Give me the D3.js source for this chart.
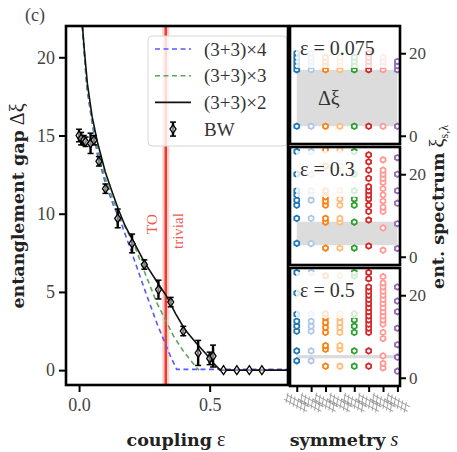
<!DOCTYPE html>
<html>
<head>
<meta charset="utf-8">
<script src="https://cdn.jsdelivr.net/npm/d3@7"></script>
<style>
  body { margin: 0; background: #fff; }
  svg text { font-family: "Liberation Serif", "DejaVu Serif", serif; }
</style>
</head>
<body>
<div id="chart"></div>
<script>
// ---- data ----
const blueEps = [0.012, 0.03, 0.05, 0.07, 0.1, 0.13, 0.159, 0.2, 0.25, 0.3, 0.35, 0.374, 0.8];
const blueGap = [22, 18.0, 15.8, 13.8, 12.0, 10.6, 9.5, 7.6, 5.2, 2.9, 0.9, 0.05, 0.05];

const greenEps = [0.013, 0.03, 0.05, 0.07, 0.1, 0.13, 0.16, 0.209, 0.25, 0.298, 0.361, 0.4, 0.45, 0.46];
const greenGap = [22, 18.1, 16.0, 14.2, 12.3, 10.9, 9.7, 8.1, 6.3, 4.3, 2.2, 1.2, 0.15, 0.0];

const blackEps = [0.013, 0.02, 0.032, 0.05, 0.07, 0.1, 0.12, 0.15, 0.177, 0.209, 0.25, 0.3, 0.336, 0.37, 0.405, 0.45, 0.488, 0.52, 0.54, 0.8];
const blackGap = [22, 20.5, 18.3, 16.2, 14.6, 12.7, 11.7, 10.3, 9.2, 8.2, 6.9, 5.6, 4.7, 3.6, 2.6, 1.7, 1.0, 0.35, 0.0, 0.0];

const bwEps = [0.0, 0.008, 0.018, 0.025, 0.044, 0.057, 0.076, 0.101, 0.148, 0.203, 0.25, 0.304, 0.351, 0.399, 0.456, 0.5, 0.513, 0.553, 0.604, 0.652, 0.70];
const bwGap = [15.0, 14.8, 14.7, 14.6, 14.5, 14.7, 13.35, 11.6, 9.7, 8.1, 6.75, 5.15, 4.35, 2.5, 1.1, 0.75, 0.9, 0, 0, 0, 0];
const bwErr = [0.4, 0.4, 0.3, 0.3, 0.65, 0.3, 0.3, 0.3, 0.6, 0.6, 0.3, 0.6, 0.3, 0.3, 0.8, 0.4, 0.7, 0, 0, 0, 0];

const transitionEps = 0.332;
const xTicks = [0.0, 0.5];
const yTicks = [0, 5, 10, 15, 20];
const legendLabels = ["(3+3)\u00d74", "(3+3)\u00d73", "(3+3)\u00d72", "BW"];

// symmetry sectors (columns) and their colours
const sectorColors = ["#1f77b4", "#aec7e8", "#ff7f0e", "#ffbb78", "#2ca02c", "#d62728", "#ff9896", "#9467bd"];
const panelEps = ["0.075", "0.3", "0.5"];
const panelBands = [[2.3, 16.0], [2.8, 8.5], [4.7, 5.5]];
const spectra = [
  [
    [2.3, 16, 17, 18, 19, 20],
    [2.3, 16, 17, 18, 19, 20],
    [2.3, 16, 17, 18, 19],
    [2.3, 16, 17, 18, 19],
    [2.3, 16, 17, 18, 19],
    [2.3, 16, 17, 18, 19, 20],
    [2.3, 16, 17, 18, 19],
    [2.3, 16, 17, 18]
  ],
  [
    [3.25, 9.3, 12.5, 13.7, 15, 16, 20, 25.5],
    [3.2, 9.3, 13.7, 15, 16, 20, 25.5],
    [2.1, 8.4, 9.3, 12.5, 13.5, 14.5, 16, 22, 25.9],
    [2.1, 8.4, 9.3, 12.5, 14, 16, 22, 25.9],
    [2.1, 8.4, 12.5, 14, 16, 20, 25.5],
    [2.6, 8.9, 11, 12.5, 14, 15, 16, 17, 19, 21, 23, 24.7],
    [1.6, 7.0, 11, 12, 13.5, 15, 16.5, 18, 19, 20, 21, 23.5],
    [2.0, 8.0, 13, 16, 20, 24]
  ],
  [
    [4.1, 6.5, 11.3, 12.5, 13.7, 15.4, 20.5, 25.5],
    [4.1, 6.5, 11.3, 12.5, 13.7, 15.4, 25.5],
    [2.8, 6.9, 7.8, 11, 12.2, 13.4, 14.6, 15.5, 24.7],
    [2.8, 6.9, 7.8, 11, 12.2, 13.4, 14.6, 15.5, 24.7],
    [2.8, 6.5, 11, 12.5, 14, 15.5, 24.7, 25.5],
    [2.8, 6.5, 11, 12, 13, 14, 15, 16, 17, 18, 19, 20, 21, 22, 24, 25.5],
    [2.4, 3.5, 5.3, 9.5, 11, 13, 14, 15, 16, 17, 18, 19, 20, 21, 22, 23, 24.5],
    [1.6, 5.0, 8, 12, 16, 18.6, 22]
  ]
];
const specTicks = [0, 20];

// ---- layout ----
const W = 457, H = 452;
const main = { left: 66, right: 288, top: 26, bottom: 385 };
const side = { left: 290, right: 400 };
const panelTops = [26, 147, 268];
const panelH = 118;

const svg = d3.select("#chart").append("svg")
  .attr("width", W).attr("height", H);

const x = d3.scaleLinear().domain([-0.05, 0.8]).range([main.left, main.right]);
const y = d3.scaleLinear().domain([-0.95, 22]).range([main.bottom, main.top]);

svg.append("defs").append("clipPath").attr("id", "mainclip")
  .append("rect")
  .attr("x", main.left).attr("y", main.top)
  .attr("width", main.right - main.left).attr("height", main.bottom - main.top);

const plot = svg.append("g").attr("clip-path", "url(#mainclip)");

// transition line
plot.append("rect")
  .attr("x", x(transitionEps) - 3.5).attr("y", main.top)
  .attr("width", 7).attr("height", main.bottom - main.top)
  .attr("fill", "#f6b3b0").attr("opacity", 0.6);
plot.append("line")
  .attr("x1", x(transitionEps)).attr("x2", x(transitionEps))
  .attr("y1", main.top).attr("y2", main.bottom)
  .attr("stroke", "#ee3b2b").attr("stroke-width", 2.5);

svg.append("text")
  .attr("transform", `translate(${x(transitionEps) - 9},234) rotate(-90)`)
  .attr("fill", "#f05a4f").attr("font-size", 15).text("TO");
svg.append("text")
  .attr("transform", `translate(${x(transitionEps) + 17},249) rotate(-90)`)
  .attr("fill", "#f05a4f").attr("font-size", 15).text("trivial");

// curves
const line = d3.line().x(d => x(d[0])).y(d => y(d[1]));
const curves = [
  { eps: blueEps, gap: blueGap, color: "#5a5af5", dash: "5,3.5", w: 1.6 },
  { eps: greenEps, gap: greenGap, color: "#5aa85a", dash: "5,3.5", w: 1.6 },
  { eps: blackEps, gap: blackGap, color: "#111", dash: null, w: 1.6 }
];
curves.forEach(c => {
  plot.append("path")
    .datum(c.eps.map((e, i) => [e, c.gap[i]]))
    .attr("d", line)
    .attr("fill", "none")
    .attr("stroke", c.color)
    .attr("stroke-width", c.w)
    .attr("stroke-dasharray", c.dash);
});

// BW points with error bars
const bw = bwEps.map((e, i) => ({ e: e, g: bwGap[i], err: bwErr[i] }));
const bwG = plot.append("g");
bw.filter(d => d.err > 0).forEach(d => {
  const px = x(d.e);
  bwG.append("line").attr("x1", px).attr("x2", px)
    .attr("y1", y(d.g - d.err)).attr("y2", y(d.g + d.err))
    .attr("stroke", "#000").attr("stroke-width", 2.4);
  [d.g - d.err, d.g + d.err].forEach(v => {
    bwG.append("line").attr("x1", px - 3).attr("x2", px + 3)
      .attr("y1", y(v)).attr("y2", y(v))
      .attr("stroke", "#000").attr("stroke-width", 1.5);
  });
});
const diamond = "M0,-4.5L3,0L0,4.5L-3,0Z";
bwG.selectAll("path.bw").data(bw).enter().append("path")
  .attr("class", "bw")
  .attr("d", diamond)
  .attr("transform", d => `translate(${x(d.e)},${y(d.g)})`)
  .attr("fill", "#fff").attr("fill-opacity", 0.5)
  .attr("stroke", "#000").attr("stroke-width", 1.3);

// legend
const leg = svg.append("g");
leg.append("rect").attr("x", 148).attr("y", 36).attr("width", 139).attr("height", 110)
  .attr("rx", 4).attr("fill", "#fff").attr("fill-opacity", 0.82)
  .attr("stroke", "#d6d6d6").attr("stroke-width", 1);
legendLabels.forEach((lab, i) => {
  const ly = 49 + i * 26.7;
  if (i < 3) {
    const c = curves[i];
    leg.append("line").attr("x1", 155).attr("x2", 191).attr("y1", ly).attr("y2", ly)
      .attr("stroke", c.color).attr("stroke-width", c.w).attr("stroke-dasharray", c.dash);
  } else {
    leg.append("line").attr("x1", 173).attr("x2", 173).attr("y1", ly - 7).attr("y2", ly + 7)
      .attr("stroke", "#000").attr("stroke-width", 2.4);
    [ly - 7, ly + 7].forEach(v => leg.append("line").attr("x1", 170).attr("x2", 176)
      .attr("y1", v).attr("y2", v).attr("stroke", "#000").attr("stroke-width", 1.5));
    leg.append("path").attr("d", diamond).attr("transform", `translate(173,${ly})`)
      .attr("fill", "#fff").attr("fill-opacity", 0.5).attr("stroke", "#000").attr("stroke-width", 1.3);
  }
  leg.append("text").attr("x", 204).attr("y", ly).attr("dy", "0.35em")
    .attr("font-size", 19).attr("fill", "#333").text(lab);
});

// main frame and axes
svg.append("rect")
  .attr("x", main.left).attr("y", main.top)
  .attr("width", main.right - main.left).attr("height", main.bottom - main.top)
  .attr("fill", "none").attr("stroke", "#000").attr("stroke-width", 2.6);

const xAxis = svg.append("g").attr("transform", `translate(0,${main.bottom + 1})`)
  .call(d3.axisBottom(x).tickValues(xTicks).tickFormat(d3.format(".1f")).tickSize(6).tickPadding(6));
const yAxis = svg.append("g").attr("transform", `translate(${main.left - 1},0)`)
  .call(d3.axisLeft(y).tickValues(yTicks).tickSize(6).tickPadding(4));
[xAxis, yAxis].forEach(a => {
  a.select(".domain").remove();
  a.selectAll(".tick line").attr("stroke", "#000").attr("stroke-width", 2);
  a.selectAll(".tick text").attr("font-size", 18).attr("fill", "#444")
    .attr("font-family", "Liberation Serif, serif");
});

// ---- spectrum panels ----
const xs = d3.scaleLinear().domain([-0.47, 7.18]).range([side.left, side.right]);
const hexPath = (r => {
  const pts = d3.range(6).map(k => {
    const a = Math.PI / 6 + k * Math.PI / 3;
    return [r * Math.cos(a), r * Math.sin(a)];
  });
  return "M" + pts.map(p => p.join(",")).join("L") + "Z";
})(2.8);

panelTops.forEach((top, p) => {
  const bottom = top + panelH;
  const ys = d3.scaleLinear().domain([-2, 26.6]).range([bottom, top]);
  const clipId = "pclip" + p;
  svg.select("defs").append("clipPath").attr("id", clipId)
    .append("rect").attr("x", side.left).attr("y", top)
    .attr("width", side.right - side.left).attr("height", panelH);
  const g = svg.append("g").attr("clip-path", `url(#${clipId})`);

  const band = panelBands[p];
  g.append("rect")
    .attr("x", xs(0)).attr("width", xs(7) - xs(0))
    .attr("y", ys(band[1])).attr("height", ys(band[0]) - ys(band[1]))
    .attr("fill", "#dcdcdc");

  spectra[p].forEach((levels, s) => {
    g.selectAll(null).data(levels).enter().append("path")
      .attr("d", hexPath)
      .attr("transform", v => `translate(${xs(s)},${ys(v)})`)
      .attr("fill", "#fff")
      .attr("stroke", sectorColors[s])
      .attr("stroke-width", 1.8);
  });

  if (p === 0) {
    g.append("text").attr("x", 318).attr("y", ys((band[0] + band[1]) / 2)).attr("dy", "0.35em")
      .attr("font-size", 20).attr("fill", "#333").text("\u0394\u03be");
  }

  // label box
  const boxW = p === 0 ? 96 : 66;
  const boxH = p === 0 ? 38 : 46;
  g.append("rect").attr("x", 296).attr("y", top + 4).attr("width", boxW).attr("height", boxH)
    .attr("fill", "#fff").attr("fill-opacity", 0.8);
  g.append("text").attr("x", 300).attr("y", top + 27).attr("dy", "0.1em")
    .attr("font-size", 20).attr("fill", "#333").text("\u03b5 = " + panelEps[p]);

  svg.append("rect").attr("x", side.left).attr("y", top)
    .attr("width", side.right - side.left).attr("height", panelH)
    .attr("fill", "none").attr("stroke", "#000").attr("stroke-width", 2.6);

  const ra = svg.append("g").attr("transform", `translate(${side.right + 1},0)`)
    .call(d3.axisRight(ys).tickValues(specTicks).tickSize(5).tickPadding(3));
  ra.select(".domain").remove();
  ra.selectAll(".tick line").attr("stroke", "#000").attr("stroke-width", 2);
  ra.selectAll(".tick text").attr("font-size", 17).attr("fill", "#444")
    .attr("font-family", "Liberation Serif, serif");

  if (p === 2) {
    const ba = svg.append("g").attr("transform", `translate(0,${bottom + 1})`)
      .call(d3.axisBottom(xs).tickValues(d3.range(8)).tickSize(5).tickFormat(""));
    ba.select(".domain").remove();
    ba.selectAll(".tick line").attr("stroke", "#000").attr("stroke-width", 2);
    // little lattice pictograms standing in for the symmetry tick labels
    d3.range(8).forEach(s => {
      const pg = svg.append("g")
        .attr("transform", `translate(${xs(s)},${bottom + 17}) rotate(28)`)
        .attr("stroke", "#7a7a7a").attr("stroke-width", 0.9).attr("opacity", 0.75);
      [-2.5, 2.5].forEach(o => pg.append("line").attr("x1", -13).attr("x2", 13)
        .attr("y1", o).attr("y2", o));
      d3.range(-11, 13, 4).forEach(t => pg.append("line").attr("x1", t - 1.5).attr("x2", t + 1.5)
        .attr("y1", -5).attr("y2", 5));
    });
  }
});

// ---- labels ----
svg.append("text").attr("x", 25).attr("y", 21).attr("font-size", 18).attr("fill", "#444").text("(c)");

svg.append("text")
  .attr("transform", `translate(24,206) rotate(-90)`)
  .attr("text-anchor", "middle").attr("font-size", 20).attr("fill", "#222")
  .html('<tspan font-weight="bold" font-family="DejaVu Serif, serif" font-size="17.5">entanglement gap</tspan> \u0394\u03be');

svg.append("text").attr("x", 176).attr("y", 446).attr("text-anchor", "middle")
  .attr("font-size", 20).attr("fill", "#222")
  .html('<tspan font-weight="bold" font-family="DejaVu Serif, serif" font-size="17.5">coupling</tspan> \u03b5');

svg.append("text").attr("x", 344).attr("y", 446).attr("text-anchor", "middle")
  .attr("font-size", 20).attr("fill", "#222")
  .html('<tspan font-weight="bold" font-family="DejaVu Serif, serif" font-size="17.5">symmetry</tspan> <tspan font-style="italic">s</tspan>');

svg.append("text")
  .attr("transform", `translate(444,207) rotate(-90)`)
  .attr("text-anchor", "middle").attr("font-size", 20).attr("fill", "#222")
  .html('<tspan font-weight="bold" font-family="DejaVu Serif, serif" font-size="17.5">ent. spectrum</tspan> \u03be<tspan font-size="12" dy="4">s,\u03bb</tspan>');
</script>
</body>
</html>
